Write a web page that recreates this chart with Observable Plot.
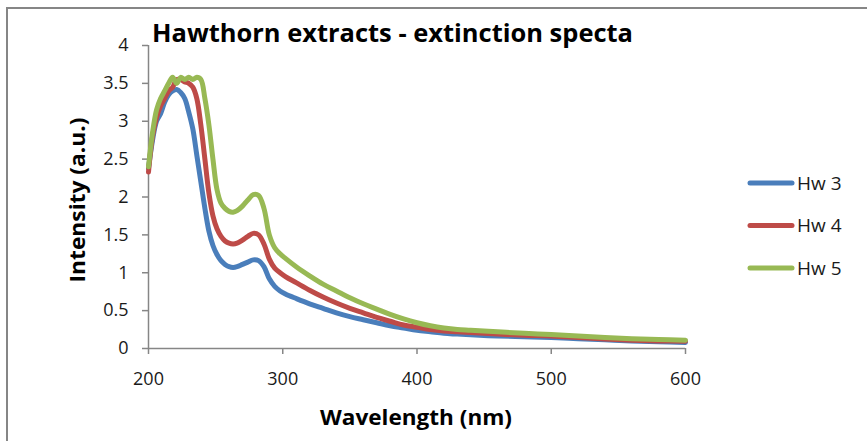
<!DOCTYPE html>
<html>
<head>
<meta charset="utf-8">
<script src="https://cdn.jsdelivr.net/npm/d3@7"></script>
<script src="https://cdn.jsdelivr.net/npm/@observablehq/plot@0.6"></script>
<style>
  body { margin: 0; background: #fff; }
  #chart svg { display: block; }
</style>
</head>
<body>
<div id="chart"></div>
<script>
// Extinction spectra of three hawthorn extracts (intensity in a.u. vs wavelength in nm)
const wavelengths = [200, 203, 206, 209, 212, 215, 218, 221, 224, 227, 230, 233, 236, 239, 242, 245, 248, 251, 254, 257, 260, 263, 266, 270, 274, 278, 282, 286, 290, 294, 298, 302, 310, 320, 330, 340, 350, 360, 370, 380, 390, 400, 410, 420, 430, 440, 460, 480, 500, 520, 540, 560, 580, 600];

const hw3 = [2.38, 2.75, 3.0, 3.1, 3.25, 3.35, 3.4, 3.42, 3.38, 3.3, 3.12, 2.9, 2.55, 2.2, 1.85, 1.55, 1.36, 1.24, 1.16, 1.11, 1.08, 1.07, 1.08, 1.11, 1.14, 1.17, 1.16, 1.08, 0.92, 0.82, 0.76, 0.72, 0.66, 0.59, 0.53, 0.47, 0.42, 0.38, 0.34, 0.30, 0.27, 0.24, 0.22, 0.2, 0.19, 0.18, 0.165, 0.155, 0.145, 0.13, 0.115, 0.1, 0.09, 0.08];

const hw4 = [2.33, 2.8, 3.05, 3.2, 3.3, 3.4, 3.45, 3.55, 3.55, 3.52, 3.5, 3.45, 3.3, 2.95, 2.5, 2.05, 1.75, 1.58, 1.48, 1.42, 1.39, 1.38, 1.39, 1.43, 1.48, 1.52, 1.5, 1.38, 1.18, 1.06, 1.0, 0.95, 0.87, 0.77, 0.68, 0.6, 0.53, 0.47, 0.41, 0.36, 0.31, 0.28, 0.25, 0.23, 0.22, 0.21, 0.19, 0.175, 0.165, 0.145, 0.125, 0.11, 0.1, 0.095];

const hw5 = [2.4, 2.85, 3.15, 3.3, 3.4, 3.5, 3.58, 3.5, 3.58, 3.55, 3.58, 3.55, 3.58, 3.55, 3.3, 2.95, 2.5, 2.1, 1.92, 1.85, 1.81, 1.8, 1.82, 1.88, 1.96, 2.03, 2.02, 1.85, 1.5, 1.33, 1.25, 1.19, 1.08, 0.96, 0.85, 0.76, 0.67, 0.59, 0.52, 0.45, 0.39, 0.34, 0.30, 0.27, 0.25, 0.24, 0.22, 0.2, 0.185, 0.165, 0.145, 0.13, 0.12, 0.11];

const seriesNames = ["Hw 3", "Hw 4", "Hw 5"];
const seriesColors = ["#4A7EBB", "#BE4B48", "#98B954"];
const xTicks = [200, 300, 400, 500, 600];
const yTicks = [0, 0.5, 1, 1.5, 2, 2.5, 3, 3.5, 4];

const titleText = "Hawthorn extracts - extinction specta";
const xLabel = "Wavelength (nm)";
const yLabel = "Intensity (a.u.)";

// Long-format rows for the line mark
const rows = [];
[hw3, hw4, hw5].forEach((vals, i) => {
  vals.forEach((v, j) => rows.push({ series: seriesNames[i], wavelength: wavelengths[j], intensity: v }));
});

const axisGray = "#868686";
const textColor = "#1a1a1a";
const font = "'Open Sans', 'Liberation Sans', sans-serif";

const chart = Plot.plot({
  width: 867,
  height: 441,
  marginLeft: 148,
  marginRight: 182,
  marginTop: 45,
  marginBottom: 93,
  style: { fontFamily: font, fontSize: "18px", color: textColor, background: "#fff", overflow: "visible" },
  x: { domain: [200, 600] },
  y: { domain: [0, 4] },
  color: { domain: seriesNames, range: seriesColors },
  marks: [
    Plot.axisX({ ticks: xTicks, tickSize: 6, tickPadding: 18, tickFormat: d => String(d), label: null, stroke: axisGray, strokeWidth: 1.5, fill: textColor, strokeOpacity: 1 }),
    Plot.axisY({ ticks: yTicks, tickSize: 6, tickPadding: 14, tickFormat: d => String(d), label: null, stroke: axisGray, strokeWidth: 1.5, fill: textColor, strokeOpacity: 1 }),
    Plot.ruleY([0], { stroke: axisGray, strokeWidth: 1.5 }),
    Plot.ruleX([200], { stroke: axisGray, strokeWidth: 1.5 }),
    Plot.line(rows, {
      x: "wavelength",
      y: "intensity",
      z: "series",
      stroke: "series",
      strokeWidth: 5,
      strokeLinecap: "round",
      strokeLinejoin: "round",
      curve: "catmull-rom"
    })
  ]
});

document.getElementById("chart").appendChild(chart);

const svg = d3.select(chart);

// Chart-area border (left and top edges)
svg.append("path")
  .attr("d", "M7,441V8H867")
  .attr("fill", "none")
  .attr("stroke", axisGray)
  .attr("stroke-width", 2);

// Title
svg.append("text")
  .attr("x", 152)
  .attr("y", 42)
  .attr("text-anchor", "start")
  .attr("font-family", font)
  .attr("font-weight", "bold")
  .attr("font-size", 25)
  .attr("fill", "#000")
  .attr("textLength", 481)
  .attr("lengthAdjust", "spacingAndGlyphs")
  .text(titleText);

// Axis titles
svg.append("text")
  .attr("x", 416)
  .attr("y", 425)
  .attr("text-anchor", "middle")
  .attr("font-family", font)
  .attr("font-weight", "bold")
  .attr("font-size", 21)
  .attr("fill", "#000")
  .attr("textLength", 192)
  .attr("lengthAdjust", "spacingAndGlyphs")
  .text(xLabel);

svg.append("text")
  .attr("transform", "translate(85,200) rotate(-90)")
  .attr("text-anchor", "middle")
  .attr("font-family", font)
  .attr("font-weight", "bold")
  .attr("font-size", 21)
  .attr("fill", "#000")
  .attr("textLength", 165)
  .attr("lengthAdjust", "spacingAndGlyphs")
  .text(yLabel);

// Legend
const legend = svg.append("g");
seriesNames.forEach((name, i) => {
  const y = 183 + i * 42.5;
  legend.append("line")
    .attr("x1", 750).attr("x2", 792)
    .attr("y1", y).attr("y2", y)
    .attr("stroke", seriesColors[i])
    .attr("stroke-width", 5)
    .attr("stroke-linecap", "round");
  legend.append("text")
    .attr("x", 797)
    .attr("y", y)
    .attr("dy", "0.36em")
    .attr("text-anchor", "start")
    .attr("font-family", font)
    .attr("font-size", 19)
    .attr("fill", textColor)
    .text(name);
});
</script>
</body>
</html>
